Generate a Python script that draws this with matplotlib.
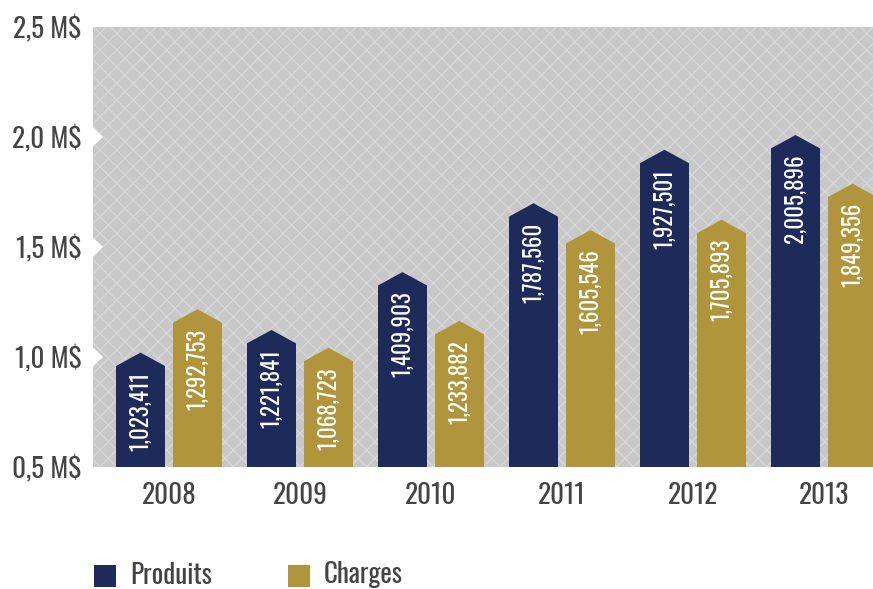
import matplotlib
matplotlib.use("Agg")
import matplotlib.pyplot as plt
from matplotlib.patches import Polygon, Rectangle
from matplotlib import font_manager as fm
import numpy as np

years = ["2008", "2009", "2010", "2011", "2012", "2013"]
# printed labels
produits_labels = [1023411, 1221841, 1409903, 1787560, 1927501, 2005896]
charges_labels = [1292753, 1068723, 1233882, 1605546, 1705893, 1849356]
# drawn bar heights (M$)
produits_height = [1.020, 1.123, 1.386, 1.699, 1.942, 2.009]
charges_height = [1.217, 1.042, 1.164, 1.577, 1.624, 1.788]
yticks = [0.5, 1.0, 1.5, 2.0, 2.5]
ytick_labels = ["0,5 M$", "1,0 M$", "1,5 M$", "2,0 M$", "2,5 M$"]
series_names = ["Produits", "Charges"]

NAVY = "#1e2a5a"
GOLD = "#b0953c"
TXT = "#444444"

available = {f.name for f in fm.fontManager.ttflist}
preferred = ["Oswald", "Roboto Condensed", "Pathway Gothic One", "Fjalla One",
             "Liberation Sans Narrow", "DejaVu Sans"]
chosen = [f for f in preferred if f in available]
FONT = chosen[:1] + ["DejaVu Sans"]
plt.rcParams["font.family"] = FONT
plt.rcParams["hatch.linewidth"] = 0.9

fig = plt.figure(figsize=(8.73, 5.89), dpi=100)
ax = fig.add_axes([93 / 873, (589 - 467) / 589, 1 - 93 / 873, (467 - 27) / 589])
ymin, ymax = 0.5, 2.5
ax.set_ylim(ymin, ymax)
xlo, xhi = -0.58, 5.374
ax.set_xlim(xlo, xhi)
ax.set_facecolor("#c8c8c8")
ax.add_patch(Rectangle((0, 0), 1, 1, transform=ax.transAxes, facecolor="none",
                       edgecolor="#d8d8d8", hatch="xx", linewidth=0, zorder=0))
for s in ax.spines.values():
    s.set_visible(False)

bw = 0.374
gap = 0.061
shoulder = 0.061
x = np.arange(len(years))
series = [(produits_height, produits_labels, NAVY, -(bw + gap) / 2),
          (charges_height, charges_labels, GOLD, (bw + gap) / 2)]
for heights, labels, color, off in series:
    for xi, h, lab in zip(x, heights, labels):
        xc = xi + off
        x0, x1 = xc - bw / 2, xc + bw / 2
        poly = Polygon([(x0, ymin), (x0, h - shoulder), (xc, h), (x1, h - shoulder), (x1, ymin)],
                       closed=True, facecolor=color, edgecolor="none", zorder=3)
        ax.add_patch(poly)
        ax.text(xc, h - 0.088, f"{lab:,}", rotation=90, ha="center", va="top",
                color="white", fontsize=16.5, zorder=4)

# white notches at inner ticks
for t in yticks[1:-1]:
    dx = 10 / 131
    dy = 9.5 * (ymax - ymin) / 440
    ax.add_patch(Polygon([(xlo, t - dy), (xlo + dx, t), (xlo, t + dy)], closed=True,
                         facecolor="white", edgecolor="none", zorder=2, clip_on=False))

ax.set_yticks(yticks)
ax.set_yticklabels(ytick_labels, fontsize=19.5, color=TXT)
ax.set_xticks(x)
ax.set_xticklabels(years, fontsize=19.5, color=TXT)
ax.tick_params(axis="both", length=0)
ax.tick_params(axis="y", pad=8)
ax.tick_params(axis="x", pad=11)

# legend
colors = [NAVY, GOLD]
lx = [94, 288]
for name, c, px in zip(series_names, colors, lx):
    fig.patches.append(Rectangle((px / 873, (589 - 587) / 589), 22 / 873, 22 / 589,
                                 transform=fig.transFigure, facecolor=c, edgecolor="none"))
    fig.text((px + 36) / 873, (589 - 575) / 589, name, fontsize=19.5, color=TXT,
             ha="left", va="center")

fig.savefig("out.png", dpi=100)
